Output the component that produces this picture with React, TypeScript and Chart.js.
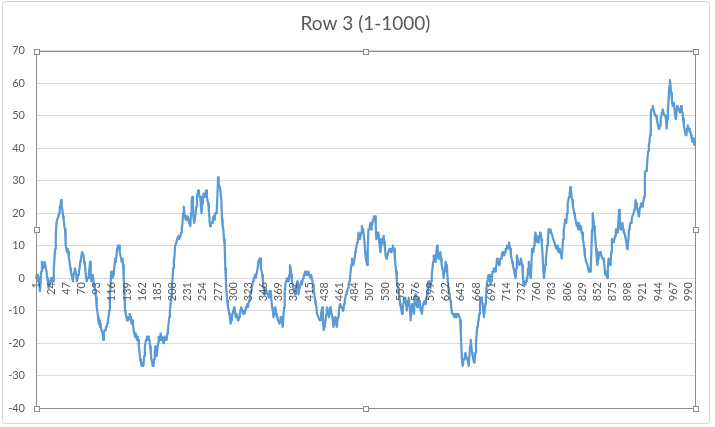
import React, { useEffect, useRef } from "react";
import { Chart, registerables } from "chart.js";

Chart.register(...registerables);

const TITLE = "Row 3 (1-1000)";
const Y_MIN = -40;
const Y_MAX = 70;
const Y_STEP = 10;
const LABEL_STEP = 23;

const values: number[] = [
  0, 1, -1, 1, 0, -2, -4, -1, 2, 5, 4, 3, 3, 5, 4, 4, 2, 0, -1, -3,
  -1, -2, -1, 0, -1, 0, -1, 3, 6, 9, 13, 17, 18, 18, 19, 20, 22, 22, 24, 22,
  21, 19, 18, 16, 15, 10, 9, 8, 9, 8, 6, 5, 3, 2, 1, 0, -1, 1, 2, 3,
  2, 1, -1, 0, 1, 2, 3, 5, 6, 7, 8, 8, 7, 5, 4, 2, 0, -1, 0, 0,
  1, 3, 5, 0, -1, 0, 1, -1, -2, -3, -4, -6, -9, -10, -12, -14, -13, -15, -14, -16,
  -16, -17, -19, -17, -16, -16, -15, -15, -14, -13, -12, -10, -6, -2, 2, 1, 0, 1, 2, 4,
  6, 5, 7, 9, 10, 9, 10, 8, 7, 6, 5, 6, 4, 0, -5, -10, -11, -12, -13, -12,
  -13, -12, -11, -12, -13, -14, -13, -14, -16, -17, -18, -17, -18, -19, -18, -19, -21, -23, -25, -26,
  -27, -26, -27, -27, -24, -21, -20, -19, -18, -19, -18, -19, -19, -21, -23, -25, -26, -27, -27, -25,
  -23, -21, -22, -24, -22, -20, -18, -19, -19, -17, -19, -18, -19, -20, -19, -18, -19, -18, -19, -17,
  -16, -14, -12, -10, -8, -6, -4, 0, 3, 5, 7, 10, 10, 11, 12, 12, 13, 12, 12, 13,
  14, 15, 17, 20, 22, 20, 19, 18, 19, 18, 19, 18, 17, 17, 16, 20, 24, 25, 21, 18,
  17, 17, 20, 22, 25, 26, 27, 26, 25, 25, 22, 20, 23, 25, 26, 25, 26, 26, 27, 25,
  24, 23, 21, 18, 16, 17, 17, 17, 18, 19, 18, 19, 20, 20, 21, 25, 31, 29, 28, 28,
  28, 24, 18, 16, 15, 12, 10, 3, -1, -5, -7, -9, -10, -11, -12, -14, -13, -12, -11, -10,
  -9, -9, -11, -12, -11, -12, -13, -13, -12, -11, -10, -9, -9, -10, -11, -10, -11, -10, -9, -9,
  -8, -9, -8, -7, -6, -5, -4, -3, -2, -1, 0, 0, 1, 0, 1, 1, 3, 5, 5, 6,
  6, 3, 2, 1, -1, -3, -5, -4, -3, -4, -4, -5, -5, -6, -4, -4, -5, -7, -9, -10,
  -12, -11, -10, -9, -11, -12, -12, -13, -13, -14, -13, -12, -12, -14, -15, -12, -9, -5, -2, -1,
  -1, 0, -1, -1, 1, 4, 3, 1, -1, -2, -3, -3, -4, -5, -3, -2, -1, -3, -5, -3,
  -2, -2, -1, -2, -1, 0, 1, 1, 2, 1, 1, 1, 2, 2, 1, 1, 0, 1, 1, -1,
  -2, -4, -5, -7, -8, -9, -11, -11, -12, -12, -13, -13, -11, -10, -9, -12, -16, -15, -14, -13,
  -11, -9, -10, -11, -12, -10, -9, -10, -11, -12, -13, -15, -14, -13, -12, -13, -15, -13, -12, -10,
  -9, -8, -8, -9, -9, -10, -10, -8, -7, -6, -5, -4, -4, -3, -2, -1, 0, 2, 4, 6,
  5, 4, 4, 6, 8, 9, 10, 11, 12, 14, 13, 12, 13, 14, 16, 15, 15, 15, 11, 8,
  6, 5, 4, 10, 15, 15, 16, 17, 15, 16, 17, 18, 19, 18, 19, 16, 12, 13, 14, 14,
  12, 10, 8, 10, 12, 11, 12, 13, 11, 9, 7, 6, 7, 7, 8, 8, 9, 9, 8, 8,
  9, 10, 9, 9, 6, 4, 2, -1, -2, -3, -5, -6, -8, -9, -10, -11, -9, -8, -7, -6,
  -6, -8, -10, -8, -7, -6, -8, -10, -13, -10, -8, -9, -10, -11, -7, -5, -6, -8, -9, -7,
  -6, -7, -8, -10, -10, -11, -9, -8, -8, -7, -8, -7, -6, -5, -3, -1, -1, -2, -3, -1,
  1, 3, 5, 7, 6, 5, 6, 8, 10, 8, 6, 6, 7, 8, 6, 4, 3, 2, 0, 2,
  3, 5, 4, 3, 0, -3, -4, -5, -7, -8, -10, -11, -11, -11, -12, -11, -12, -12, -11, -11,
  -11, -11, -12, -13, -17, -22, -26, -27, -25, -25, -24, -23, -24, -24, -25, -26, -27, -24, -21, -19,
  -21, -23, -24, -25, -26, -25, -23, -20, -17, -15, -14, -13, -11, -8, -6, -6, -7, -8, -10, -12,
  -10, -8, -6, -3, -1, 0, 1, 0, 1, -2, -1, 0, 2, 2, 3, 2, 2, 3, 4, 6,
  5, 5, 4, 5, 6, 6, 7, 8, 7, 8, 7, 8, 9, 9, 10, 9, 10, 11, 10, 9,
  7, 6, 5, 4, 3, 2, 1, 0, 3, 7, 6, 5, 5, 4, 5, 6, 5, 4, 1, -2,
  -2, -1, -2, -1, 0, 0, 3, 5, 3, 1, 0, 4, 9, 9, 8, 10, 12, 14, 13, 12,
  11, 11, 12, 13, 14, 14, 12, 10, 7, 3, 0, 2, 4, 6, 8, 10, 12, 15, 14, 15,
  15, 14, 14, 13, 12, 12, 11, 10, 10, 9, 10, 9, 8, 9, 8, 8, 7, 6, 9, 12,
  15, 16, 18, 17, 17, 20, 23, 24, 25, 26, 28, 27, 25, 24, 22, 21, 20, 19, 18, 17,
  16, 17, 15, 17, 16, 15, 16, 14, 14, 12, 11, 9, 7, 6, 5, 5, 4, 3, 2, 3,
  2, 3, 9, 15, 20, 18, 16, 14, 12, 9, 6, 4, 6, 8, 7, 7, 8, 7, 7, 6,
  6, 5, 3, 1, 2, 1, 0, 3, 6, 5, 5, 4, 8, 12, 11, 11, 12, 12, 13, 15,
  14, 14, 15, 18, 21, 17, 15, 15, 16, 17, 15, 14, 14, 13, 13, 11, 9, 10, 12, 15,
  16, 17, 17, 18, 19, 19, 20, 21, 22, 24, 23, 22, 21, 20, 19, 21, 22, 23, 22, 22,
  23, 24, 25, 32, 33, 33, 34, 37, 39, 41, 42, 44, 51, 52, 52, 53, 52, 51, 51, 50,
  50, 49, 48, 47, 46, 46, 47, 49, 50, 51, 52, 51, 51, 50, 50, 49, 46, 49, 52, 55,
  59, 61, 59, 57, 55, 53, 53, 54, 52, 50, 49, 51, 53, 52, 52, 52, 51, 52, 53, 51,
  51, 49, 47, 46, 45, 44, 44, 46, 47, 46, 46, 45, 45, 44, 43, 42, 42, 43, 41, 41,
];

const categories: string[] = values.map((_, i) => String(i + 1));

const FONT = "Lato, 'Open Sans', sans-serif";
const TEXT = "#595959";
const LINE = "#5b9bd5";
const GRID = "#d9d9d9";
const FRAME = "#8c8c8c";

function drawHandle(ctx: CanvasRenderingContext2D, x: number, y: number) {
  ctx.fillStyle = "#ffffff";
  ctx.fillRect(Math.round(x) - 3, Math.round(y) - 3, 6, 6);
  ctx.strokeStyle = FRAME;
  ctx.lineWidth = 1;
  ctx.strokeRect(Math.round(x) - 2.5, Math.round(y) - 2.5, 5, 5);
}

const decorPlugin = {
  id: "excelDecor",
  beforeDraw(chart: any) {
    const ctx: CanvasRenderingContext2D = chart.ctx;
    ctx.save();
    ctx.fillStyle = "#ffffff";
    ctx.fillRect(0, 0, chart.width, chart.height);
    ctx.strokeStyle = "#d4d4d4";
    ctx.lineWidth = 1;
    ctx.beginPath();
    (ctx as any).roundRect(2.5, 1.5, chart.width - 8, chart.height - 5, 3);
    ctx.stroke();
    ctx.restore();
  },
  afterDatasetsDraw(chart: any) {
    const ctx: CanvasRenderingContext2D = chart.ctx;
    const xs = chart.scales.x;
    const ys = chart.scales.y;
    const y0 = ys.getPixelForValue(0);
    ctx.save();
    ctx.font = `11px ${FONT}`;
    ctx.fillStyle = TEXT;
    ctx.textAlign = "right";
    ctx.textBaseline = "middle";
    categories.forEach((c, i) => {
      if (i % LABEL_STEP !== 0) return;
      const x = xs.getPixelForValue(i);
      ctx.save();
      ctx.translate(x, y0 + 4);
      ctx.rotate(-Math.PI / 2);
      ctx.fillText(c, 0, 0);
      ctx.restore();
    });
    ctx.restore();
  },
  afterDraw(chart: any) {
    const ctx: CanvasRenderingContext2D = chart.ctx;
    const a = chart.chartArea;
    ctx.save();
    ctx.strokeStyle = FRAME;
    ctx.lineWidth = 1;
    const l = Math.round(a.left) + 0.5;
    const t = Math.round(a.top) + 0.5;
    const r = Math.round(a.right) + 0.5;
    const b = Math.round(a.bottom) + 0.5;
    ctx.strokeRect(l, t, r - l, b - t);
    const mx = (l + r) / 2;
    const my = (t + b) / 2;
    [
      [l, t], [mx, t], [r, t],
      [l, my], [r, my],
      [l, b], [mx, b], [r, b],
    ].forEach(([x, y]) => drawHandle(ctx, x, y));
    ctx.restore();
  },
};

export default function App() {
  const canvasRef = useRef<HTMLCanvasElement | null>(null);

  useEffect(() => {
    const canvas = canvasRef.current;
    if (!canvas) return;
    const chart = new Chart(canvas, {
      type: "line",
      data: {
        labels: categories,
        datasets: [
          {
            label: TITLE,
            data: values,
            borderColor: LINE,
            backgroundColor: LINE,
            borderWidth: 2.25,
            pointRadius: 0,
            pointHoverRadius: 0,
            tension: 0,
            borderJoinStyle: "round",
            borderCapStyle: "round",
            fill: false,
          },
        ],
      },
      options: {
        animation: false,
        responsive: true,
        maintainAspectRatio: false,
        layout: { padding: { left: 0, right: 20, top: 0, bottom: 19 } },
        plugins: {
          legend: { display: false },
          tooltip: { enabled: false },
          title: {
            display: true,
            text: TITLE,
            color: TEXT,
            fullSize: false,
            font: { family: FONT, size: 19, weight: "normal" },
            padding: { top: 12, bottom: 16 },
          },
        },
        scales: {
          x: {
            type: "category",
            display: false,
            offset: false,
          },
          y: {
            min: Y_MIN,
            max: Y_MAX,
            ticks: {
              stepSize: Y_STEP,
              color: TEXT,
              font: { family: FONT, size: 11 },
              padding: 11,
            },
            grid: { color: GRID, drawTicks: false, lineWidth: 1 },
            border: { display: false },
            afterFit: (s: any) => {
              s.width = 36;
            },
          },
        },
      },
      plugins: [decorPlugin],
    });
    return () => chart.destroy();
  }, []);

  return (
    <div style={{ position: "fixed", left: 0, top: 0, width: 715, height: 427, background: "#fff" }}>
      <canvas ref={canvasRef} />
    </div>
  );
}
